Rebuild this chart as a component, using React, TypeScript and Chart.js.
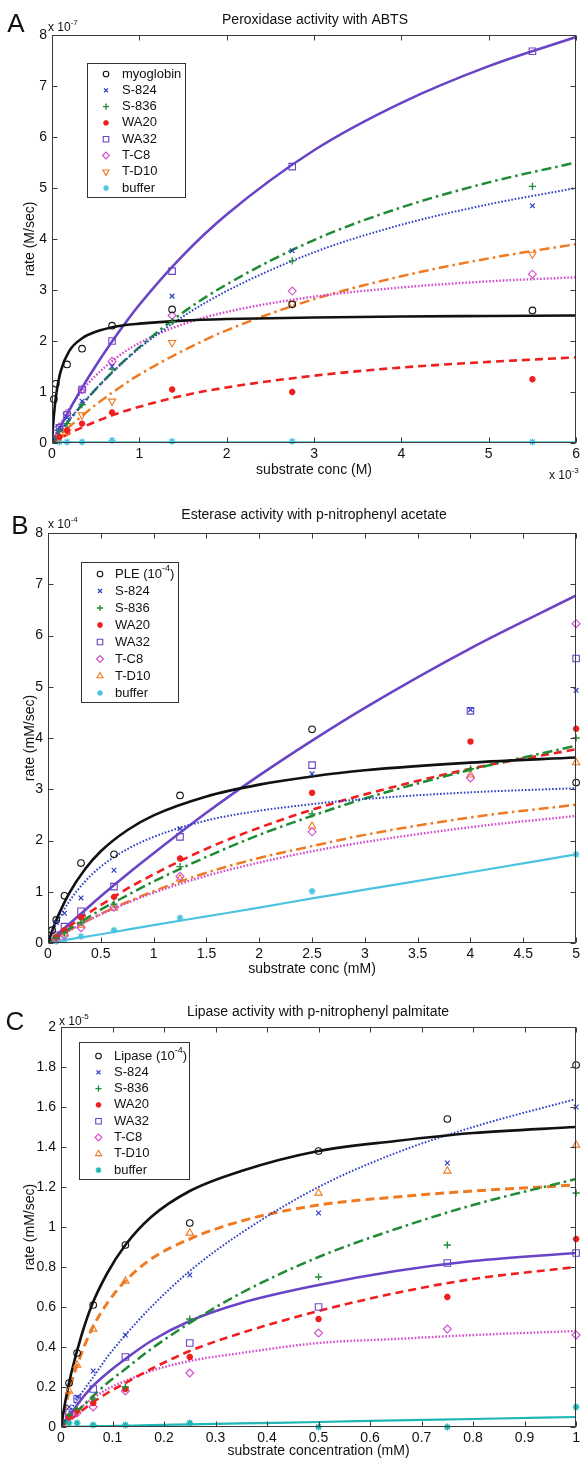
import React, { useEffect, useRef } from "react";
import { Chart, registerables } from "chart.js";
import { drawPoint } from "chart.js/helpers";

Chart.register(...registerables);

const FONT = "'Liberation Sans', Arial, Helvetica, sans-serif";
const W = 583;

// ---------------- Panel A : Peroxidase activity with ABTS ----------------
const aLabels = ["myoglobin", "S-824", "S-836", "WA20", "WA32", "T-C8", "T-D10", "buffer"];
const aPointX = [0.0215, 0.043, 0.086, 0.172, 0.344, 0.6875, 1.375, 2.75, 5.5];
const aMyoglobin = [0.86, 1.16, null, 1.54, 1.85, 2.3, 2.62, 2.72, 2.6];
const aS824 = [null, null, 0.3, 0.5, 0.82, 1.5, 2.88, 3.77, 4.65];
const aS836 = [null, null, 0.25, 0.38, 0.75, 1.45, 2.38, 3.57, 5.03];
const aWA20 = [null, null, 0.12, 0.25, 0.38, 0.6, 1.05, 1.0, 1.25];
const aWA32 = [null, 0.18, 0.3, 0.55, 1.05, 2.0, 3.37, 5.42, 7.68];
const aTC8 = [null, null, 0.32, 0.58, 1.05, 1.6, 2.5, 2.98, 3.31];
const aTD10 = [null, null, 0.12, 0.22, 0.55, 0.82, 1.97, 2.73, 3.7];
const aBuffer = [null, null, 0.02, 0.02, 0.02, 0.05, 0.03, 0.03, 0.02];
const aFitX = [0, 0.02, 0.05, 0.1, 0.2, 0.35, 0.5, 0.75, 1, 1.5, 2, 3, 4, 5, 6];
const aMyoglobinFit = [0, 0.51, 0.97, 1.41, 1.81, 2.06, 2.18, 2.29, 2.34, 2.4, 2.43, 2.46, 2.48, 2.49, 2.5];
const aS824Fit = [0, 0.05, 0.12, 0.24, 0.46, 0.77, 1.06, 1.48, 1.86, 2.48, 2.98, 3.74, 4.28, 4.68, 5.0];
const aS836Fit = [0, 0.05, 0.12, 0.23, 0.45, 0.76, 1.05, 1.49, 1.88, 2.56, 3.11, 3.98, 4.62, 5.11, 5.5];
const aWA20Fit = [0, 0.02, 0.05, 0.1, 0.19, 0.31, 0.42, 0.58, 0.71, 0.93, 1.09, 1.32, 1.48, 1.59, 1.68];
const aWA32Fit = [0, 0.07, 0.17, 0.33, 0.65, 1.1, 1.51, 2.14, 2.71, 3.68, 4.48, 5.74, 6.67, 7.39, 7.96];
const aTC8Fit = [0, 0.08, 0.19, 0.37, 0.67, 1.04, 1.32, 1.69, 1.96, 2.33, 2.57, 2.87, 3.05, 3.17, 3.25];
const aTD10Fit = [0, 0.03, 0.08, 0.17, 0.32, 0.54, 0.75, 1.06, 1.34, 1.81, 2.21, 2.82, 3.27, 3.62, 3.9];
const aBufferFit = [0.012, 0.012, 0.012, 0.012, 0.012, 0.012, 0.012, 0.012, 0.012, 0.012, 0.012, 0.012, 0.012, 0.012, 0.012];
const aXTicks = [0, 1, 2, 3, 4, 5, 6];
const aXTickLabels = ["0", "1", "2", "3", "4", "5", "6"];
const aYTicks = [0, 1, 2, 3, 4, 5, 6, 7, 8];
const aYTickLabels = ["0", "1", "2", "3", "4", "5", "6", "7", "8"];

// ---------------- Panel B : Esterase activity ----------------
const bLabels = ["PLE (10^{-4})", "S-824", "S-836", "WA20", "WA32", "T-C8", "T-D10", "buffer"];
const bPointX = [0.039, 0.078, 0.156, 0.3125, 0.625, 1.25, 2.5, 4, 5];
const bPLE = [0.25, 0.45, 0.92, 1.56, 1.73, 2.88, 4.17, null, 3.13];
const bS824 = [null, 0.4, 0.58, 0.88, 1.42, 2.23, 3.3, 4.55, 4.93];
const bS836 = [null, 0.1, 0.2, 0.4, 0.76, 1.49, 2.52, 3.4, 4.0];
const bWA20 = [null, 0.12, 0.25, 0.5, 0.9, 1.65, 2.93, 3.93, 4.18];
const bWA32 = [null, 0.15, 0.32, 0.62, 1.1, 2.07, 3.47, 4.53, 5.55];
const bTC8 = [null, 0.08, 0.15, 0.3, 0.7, 1.3, 2.17, 3.22, 6.23];
const bTD10 = [null, 0.1, 0.18, 0.35, 0.68, 1.25, 2.28, 3.28, 3.52];
const bBuffer = [null, 0.03, 0.07, 0.13, 0.25, 0.49, 1.01, null, 1.73];
const bFitX = [0, 0.05, 0.1, 0.2, 0.35, 0.5, 0.75, 1, 1.5, 2, 2.5, 3, 4, 5];
const bPLEFit = [0, 0.3, 0.55, 0.97, 1.44, 1.79, 2.2, 2.49, 2.86, 3.09, 3.25, 3.37, 3.52, 3.62];
const bS824Fit = [0, 0.25, 0.46, 0.81, 1.2, 1.49, 1.83, 2.07, 2.39, 2.58, 2.71, 2.81, 2.94, 3.02];
const bS836Fit = [0, 0.07, 0.14, 0.27, 0.46, 0.65, 0.93, 1.2, 1.68, 2.11, 2.48, 2.82, 3.38, 3.85];
const bWA20Fit = [0, 0.08, 0.16, 0.32, 0.54, 0.74, 1.06, 1.34, 1.84, 2.25, 2.6, 2.9, 3.4, 3.78];
const bWA32Fit = [0, 0.09, 0.19, 0.37, 0.64, 0.91, 1.34, 1.75, 2.54, 3.27, 3.95, 4.59, 5.75, 6.78];
const bTC8Fit = [0, 0.06, 0.13, 0.24, 0.41, 0.56, 0.78, 0.98, 1.31, 1.57, 1.79, 1.97, 2.26, 2.48];
const bTD10Fit = [0, 0.06, 0.13, 0.25, 0.41, 0.57, 0.8, 1.01, 1.37, 1.66, 1.89, 2.11, 2.45, 2.7];
const bBufferFit = [0, 0.02, 0.03, 0.07, 0.12, 0.17, 0.26, 0.35, 0.52, 0.69, 0.87, 1.04, 1.38, 1.73];
const bXTicks = [0, 0.5, 1, 1.5, 2, 2.5, 3, 3.5, 4, 4.5, 5];
const bXTickLabels = ["0", "0.5", "1", "1.5", "2", "2.5", "3", "3.5", "4", "4.5", "5"];
const bYTicks = [0, 1, 2, 3, 4, 5, 6, 7, 8];
const bYTickLabels = ["0", "1", "2", "3", "4", "5", "6", "7", "8"];

// ---------------- Panel C : Lipase activity ----------------
const cLabels = ["Lipase (10^{-4})", "S-824", "S-836", "WA20", "WA32", "T-C8", "T-D10", "buffer"];
const cPointX = [0.0156, 0.03125, 0.0625, 0.125, 0.25, 0.5, 0.75, 1];
const cLipase = [0.22, 0.37, 0.61, 0.91, 1.02, 1.38, 1.54, 1.81];
const cS824 = [0.1, 0.15, 0.28, 0.46, 0.76, 1.07, 1.32, 1.6];
const cS836 = [0.06, 0.09, 0.14, 0.2, 0.54, 0.75, 0.91, 1.17];
const cWA20 = [0.05, 0.08, 0.12, 0.19, 0.35, 0.54, 0.65, 0.94];
const cWA32 = [0.07, 0.14, 0.19, 0.35, 0.42, 0.6, 0.82, 0.87];
const cTC8 = [0.05, 0.07, 0.1, 0.18, 0.27, 0.47, 0.49, 0.46];
const cTD10 = [0.18, 0.31, 0.49, 0.73, 0.97, 1.17, 1.28, 1.41];
const cBuffer = [0.02, 0.02, 0.01, 0.01, 0.02, 0.0, 0.0, 0.1];
const cFitX = [0, 0.01, 0.02, 0.04, 0.06, 0.09, 0.125, 0.175, 0.25, 0.35, 0.5, 0.65, 0.8, 1];
const cLipaseFit = [0, 0.15, 0.27, 0.46, 0.61, 0.77, 0.91, 1.05, 1.18, 1.28, 1.38, 1.43, 1.47, 1.5];
const cS824Fit = [0, 0.04, 0.09, 0.17, 0.24, 0.35, 0.46, 0.6, 0.78, 0.97, 1.2, 1.37, 1.5, 1.64];
const cS836Fit = [0, 0.03, 0.05, 0.1, 0.15, 0.22, 0.29, 0.39, 0.52, 0.67, 0.85, 0.99, 1.11, 1.24];
const cWA20Fit = [0, 0.02, 0.04, 0.08, 0.12, 0.17, 0.22, 0.29, 0.38, 0.47, 0.58, 0.67, 0.74, 0.8];
const cWA32Fit = [0, 0.04, 0.07, 0.14, 0.2, 0.27, 0.34, 0.43, 0.53, 0.62, 0.71, 0.78, 0.83, 0.87];
const cTC8Fit = [0, 0.03, 0.06, 0.1, 0.14, 0.19, 0.23, 0.28, 0.33, 0.37, 0.42, 0.44, 0.46, 0.48];
const cTD10Fit = [0, 0.12, 0.22, 0.37, 0.49, 0.62, 0.73, 0.84, 0.94, 1.03, 1.11, 1.15, 1.18, 1.21];
const cBufferFit = [0, 0.001, 0.001, 0.002, 0.003, 0.005, 0.006, 0.009, 0.013, 0.018, 0.025, 0.033, 0.04, 0.05];
const cXTicks = [0, 0.1, 0.2, 0.3, 0.4, 0.5, 0.6, 0.7, 0.8, 0.9, 1];
const cXTickLabels = ["0", "0.1", "0.2", "0.3", "0.4", "0.5", "0.6", "0.7", "0.8", "0.9", "1"];
const cYTicks = [0, 0.2, 0.4, 0.6, 0.8, 1, 1.2, 1.4, 1.6, 1.8, 2];
const cYTickLabels = ["0", "0.2", "0.4", "0.6", "0.8", "1", "1.2", "1.4", "1.6", "1.8", "2"];

// ---------------- styles ----------------
type Style = {
  color: string; pointStyle: string; r: number; pw: number; filled: boolean;
  rotation?: number; dash: number[]; width: number;
};
const baseStyles: Style[] = [
  { color: "#111111", pointStyle: "circle", r: 3.3, pw: 1.1, filled: false, dash: [], width: 2.6 },
  { color: "#2f3fc4", pointStyle: "crossRot", r: 3.3, pw: 1.2, filled: false, dash: [1.6, 1.8], width: 2 },
  { color: "#1f8b34", pointStyle: "cross", r: 3.6, pw: 1.3, filled: false, dash: [10, 4, 2.5, 4], width: 2.5 },
  { color: "#f01e1e", pointStyle: "star", r: 3.2, pw: 2, filled: true, dash: [8, 5], width: 2.6 },
  { color: "#6a44c6", pointStyle: "rect", r: 4.6, pw: 1.1, filled: false, dash: [], width: 2.6 },
  { color: "#d24ccc", pointStyle: "rectRot", r: 4, pw: 1.1, filled: false, dash: [1.6, 1.8], width: 2.4 },
  { color: "#f07a22", pointStyle: "triangle", r: 4.2, pw: 1.1, filled: false, dash: [10, 4, 2.5, 4], width: 2.5 },
  { color: "#4cc3e0", pointStyle: "star", r: 3.4, pw: 1.4, filled: false, dash: [], width: 2.2 },
];
const stylesA: Style[] = baseStyles.map((s, i) => (i === 6 ? { ...s, rotation: 180 } : s));
const stylesB: Style[] = baseStyles;
const stylesC: Style[] = baseStyles.map((s, i) =>
  i === 6 ? { ...s, dash: [9, 5], width: 3 } : i === 7 ? { ...s, color: "#1fb6b6" } : s
);

type Legend = { x: number; y: number; w: number; h: number; row0: number; step: number; mx: number; tx: number };
type PanelCfg = {
  top: number; H: number; left: number; right: number; areaTop: number; areaBottom: number;
  xMin: number; xMax: number; yMin: number; yMax: number;
  xTicks: number[]; xTickLabels: string[]; yTicks: number[]; yTickLabels: string[];
  title: string; titleX: number; titleY: number;
  letter: string; letterX: number; letterY: number;
  yExp: string; yExpX: number; yExpY: number;
  xExp?: string; xExpX?: number; xExpY?: number;
  xTitle: string; yTitle: string; xTitlePad: number;
  legend: Legend;
  labels: string[]; styles: Style[];
  pointX: number[]; points: (number | null)[][];
  fitX: number[]; fits: number[][];
};

const panels: PanelCfg[] = [
  {
    top: 0, H: 490, left: 52, right: 580, areaTop: 35, areaBottom: 443,
    xMin: 0, xMax: 6, yMin: 0, yMax: 8,
    xTicks: aXTicks, xTickLabels: aXTickLabels, yTicks: aYTicks, yTickLabels: aYTickLabels,
    title: "Peroxidase activity with ABTS", titleX: 315, titleY: 20,
    letter: "A", letterX: 16, letterY: 25,
    yExp: "x 10^{-7}", yExpX: 48, yExpY: 28,
    xExp: "x 10^{-3}", xExpX: 549, xExpY: 476,
    xTitle: "substrate conc (M)", yTitle: "rate (M/sec)", xTitlePad: 11.6,
    legend: { x: 87, y: 63, w: 98, h: 134, row0: 74, step: 16.3, mx: 106, tx: 122 },
    labels: aLabels, styles: stylesA,
    pointX: aPointX, points: [aMyoglobin, aS824, aS836, aWA20, aWA32, aTC8, aTD10, aBuffer],
    fitX: aFitX, fits: [aMyoglobinFit, aS824Fit, aS836Fit, aWA20Fit, aWA32Fit, aTC8Fit, aTD10Fit, aBufferFit],
  },
  {
    top: 490, H: 500, left: 48, right: 581, areaTop: 43, areaBottom: 453,
    xMin: 0, xMax: 5, yMin: 0, yMax: 8,
    xTicks: bXTicks, xTickLabels: bXTickLabels, yTicks: bYTicks, yTickLabels: bYTickLabels,
    title: "Esterase activity with p-nitrophenyl acetate", titleX: 314, titleY: 25,
    letter: "B", letterX: 20, letterY: 37,
    yExp: "x 10^{-4}", yExpX: 48, yExpY: 35,
    xTitle: "substrate conc (mM)", yTitle: "rate (mM/sec)", xTitlePad: 12.6,
    legend: { x: 81, y: 72, w: 97, h: 140, row0: 84, step: 17, mx: 100, tx: 115 },
    labels: bLabels, styles: stylesB,
    pointX: bPointX, points: [bPLE, bS824, bS836, bWA20, bWA32, bTC8, bTD10, bBuffer],
    fitX: bFitX, fits: [bPLEFit, bS824Fit, bS836Fit, bWA20Fit, bWA32Fit, bTC8Fit, bTD10Fit, bBufferFit],
  },
  {
    top: 990, H: 470, left: 61, right: 580, areaTop: 37, areaBottom: 437,
    xMin: 0, xMax: 1, yMin: 0, yMax: 2,
    xTicks: cXTicks, xTickLabels: cXTickLabels, yTicks: cYTicks, yTickLabels: cYTickLabels,
    title: "Lipase activity with p-nitrophenyl palmitate", titleX: 318, titleY: 22,
    letter: "C", letterX: 15, letterY: 33,
    yExp: "x 10^{-5}", yExpX: 59, yExpY: 32,
    xTitle: "substrate concentration (mM)", yTitle: "rate (mM/sec)", xTitlePad: 0,
    legend: { x: 79, y: 52, w: 110, h: 137, row0: 66, step: 16.3, mx: 98.5, tx: 114 },
    labels: cLabels, styles: stylesC,
    pointX: cPointX, points: [cLipase, cS824, cS836, cWA20, cWA32, cTC8, cTD10, cBuffer],
    fitX: cFitX, fits: [cLipaseFit, cS824Fit, cS836Fit, cWA20Fit, cWA32Fit, cTC8Fit, cTD10Fit, cBufferFit],
  },
];

// text with ^{...} superscripts
function drawRich(ctx: CanvasRenderingContext2D, text: string, x: number, y: number, size: number, align: string) {
  const parts: { t: string; sup: boolean }[] = [];
  const re = /\^\{([^}]*)\}/g;
  let last = 0;
  let m: RegExpExecArray | null;
  while ((m = re.exec(text))) {
    if (m.index > last) parts.push({ t: text.slice(last, m.index), sup: false });
    parts.push({ t: m[1], sup: true });
    last = re.lastIndex;
  }
  if (last < text.length) parts.push({ t: text.slice(last), sup: false });
  const supSize = Math.round(size * 0.68);
  const widths = parts.map((p) => {
    ctx.font = `${p.sup ? supSize : size}px ${FONT}`;
    return ctx.measureText(p.t).width;
  });
  const total = widths.reduce((a, b) => a + b, 0);
  let cx = align === "left" ? x : align === "center" ? x - total / 2 : x - total;
  ctx.textAlign = "left";
  ctx.textBaseline = "middle";
  parts.forEach((p, i) => {
    ctx.font = `${p.sup ? supSize : size}px ${FONT}`;
    ctx.fillText(p.t, cx, p.sup ? y - size * 0.42 : y);
    cx += widths[i];
  });
}

function makeDecor(p: PanelCfg) {
  return {
    id: "decor",
    afterDatasetsDraw(chart: any) {
      const ctx: CanvasRenderingContext2D = chart.ctx;
      const ca = chart.chartArea;
      const xs = chart.scales.x;
      const ys = chart.scales.y;
      ctx.save();
      ctx.strokeStyle = "#3a3a3a";
      ctx.lineWidth = 1;
      const L = Math.round(ca.left) + 0.5;
      const R = Math.round(ca.right) - 0.5;
      const T = Math.round(ca.top) + 0.5;
      const B = Math.round(ca.bottom) - 0.5;
      ctx.strokeRect(L, T, R - L, B - T);
      ctx.beginPath();
      xs.ticks.forEach((t: any) => {
        const px = Math.round(xs.getPixelForValue(t.value)) + 0.5;
        ctx.moveTo(px, B); ctx.lineTo(px, B - 5);
        ctx.moveTo(px, T); ctx.lineTo(px, T + 5);
      });
      ys.ticks.forEach((t: any) => {
        const py = Math.round(ys.getPixelForValue(t.value)) + 0.5;
        ctx.moveTo(L, py); ctx.lineTo(L + 5, py);
        ctx.moveTo(R, py); ctx.lineTo(R - 5, py);
      });
      ctx.stroke();

      // legend box
      const lg = p.legend;
      ctx.fillStyle = "#ffffff";
      ctx.fillRect(lg.x, lg.y, lg.w, lg.h);
      ctx.strokeStyle = "#333333";
      ctx.lineWidth = 1;
      ctx.strokeRect(lg.x + 0.5, lg.y + 0.5, lg.w, lg.h);
      const ds = chart.data.datasets;
      p.styles.forEach((st, i) => {
        const y = lg.row0 + i * lg.step;
        ctx.strokeStyle = st.color;
        ctx.fillStyle = st.filled ? st.color : "rgba(0,0,0,0)";
        ctx.lineWidth = st.pw;
        drawPoint(ctx, { pointStyle: st.pointStyle as any, rotation: st.rotation || 0, radius: st.r * 0.85, borderWidth: st.pw } as any, lg.mx, y);
        ctx.fillStyle = "#111111";
        drawRich(ctx, ds[i].label, lg.tx, y, 13, "left");
      });
      ctx.restore();
    },
    afterDraw(chart: any) {
      const ctx: CanvasRenderingContext2D = chart.ctx;
      ctx.save();
      ctx.fillStyle = "#111111";
      drawRich(ctx, p.title, p.titleX, p.titleY, 14, "center");
      drawRich(ctx, p.letter, p.letterX, p.letterY, 26, "center");
      drawRich(ctx, p.yExp, p.yExpX, p.yExpY, 12, "left");
      if (p.xExp) drawRich(ctx, p.xExp, p.xExpX!, p.xExpY!, 12, "left");
      ctx.restore();
    },
  };
}

function buildConfig(p: PanelCfg): any {
  const markerSets = p.points.map((ys, i) => {
    const st = p.styles[i];
    return {
      label: p.labels[i],
      data: p.pointX.map((x, j) => ({ x, y: ys[j] })).filter((d) => d.y !== null),
      showLine: false,
      pointStyle: st.pointStyle,
      pointRadius: st.r,
      pointBorderWidth: st.pw,
      pointRotation: st.rotation || 0,
      pointBorderColor: st.color,
      pointBackgroundColor: st.filled ? st.color : "rgba(0,0,0,0)",
      borderColor: st.color,
      backgroundColor: st.filled ? st.color : "rgba(0,0,0,0)",
      clip: false,
    };
  });
  const fitSets = p.fits.map((ys, i) => {
    const st = p.styles[i];
    return {
      label: p.labels[i] + " fit",
      data: p.fitX.map((x, j) => ({ x, y: ys[j] })),
      showLine: true,
      pointRadius: 0,
      borderColor: st.color,
      backgroundColor: st.color,
      borderWidth: st.width,
      borderDash: st.dash,
      borderCapStyle: "butt",
      cubicInterpolationMode: "monotone",
      fill: false,
    };
  });
  const tickFont = { family: FONT, size: 14 };
  return {
    type: "scatter",
    data: { datasets: [...markerSets, ...fitSets] },
    plugins: [makeDecor(p)],
    options: {
      responsive: false,
      animation: false,
      events: [],
      layout: { padding: { top: p.areaTop, right: W - p.right, bottom: 0, left: 0 } },
      plugins: { legend: { display: false }, tooltip: { enabled: false }, title: { display: false } },
      scales: {
        x: {
          type: "linear",
          min: p.xMin,
          max: p.xMax,
          afterBuildTicks: (s: any) => { s.ticks = p.xTicks.map((v) => ({ value: v })); },
          afterFit: (s: any) => { s.height = p.H - p.areaBottom; },
          grid: { display: false, drawTicks: false },
          border: { display: false },
          ticks: {
            padding: 3, color: "#111111", font: tickFont, maxRotation: 0, autoSkip: false,
            callback: (_v: any, i: number) => p.xTickLabels[i],
          },
          title: { display: true, text: p.xTitle, color: "#111111", font: { family: FONT, size: 14 }, padding: { top: 0, bottom: p.xTitlePad } },
        },
        y: {
          type: "linear",
          min: p.yMin,
          max: p.yMax,
          afterBuildTicks: (s: any) => { s.ticks = p.yTicks.map((v) => ({ value: v })); },
          afterFit: (s: any) => { s.width = p.left; },
          grid: { display: false, drawTicks: false },
          border: { display: false },
          ticks: {
            padding: 5, color: "#111111", font: tickFont, autoSkip: false,
            callback: (_v: any, i: number) => p.yTickLabels[i],
          },
          title: { display: true, text: p.yTitle, color: "#111111", font: { family: FONT, size: 14 }, padding: { top: 21.6, bottom: 0 } },
        },
      },
    },
  };
}

function Panel({ cfg }: { cfg: PanelCfg }) {
  const ref = useRef<HTMLCanvasElement>(null);
  useEffect(() => {
    const chart = new Chart(ref.current as HTMLCanvasElement, buildConfig(cfg));
    return () => chart.destroy();
  }, [cfg]);
  return (
    <canvas
      ref={ref}
      width={W}
      height={cfg.H}
      style={{ position: "absolute", left: 0, top: cfg.top, width: W, height: cfg.H, display: "block" }}
    />
  );
}

export default function App() {
  useEffect(() => {
    document.body.style.margin = "0";
    document.body.style.background = "#ffffff";
  }, []);
  return (
    <div style={{ position: "relative", width: W, height: 1460, background: "#ffffff", overflow: "hidden" }}>
      {panels.map((p, i) => (
        <Panel key={i} cfg={p} />
      ))}
    </div>
  );
}
